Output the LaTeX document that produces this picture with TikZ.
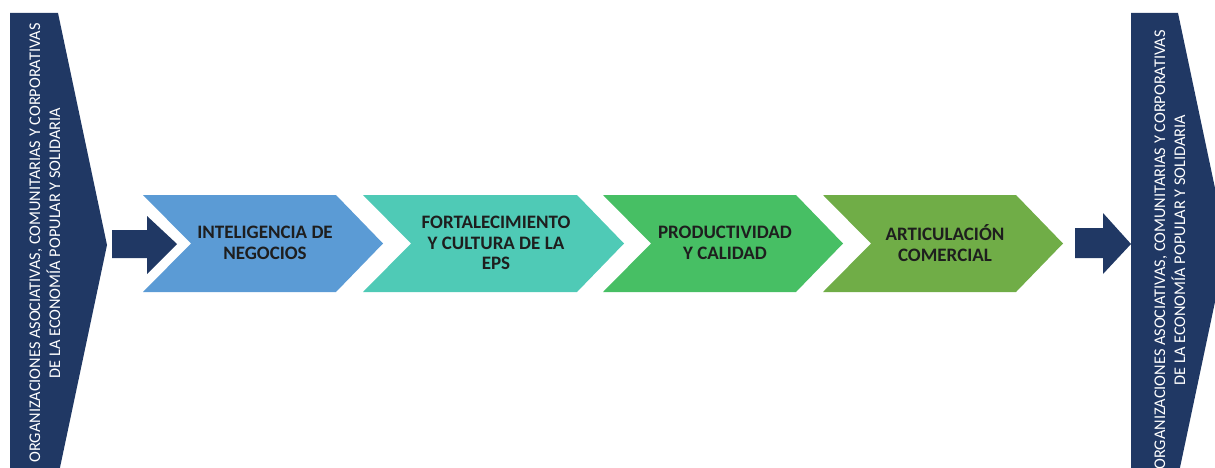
\documentclass[tikz,border=0pt]{standalone}
\usepackage{fontspec}
\setmainfont{Carlito}
\definecolor{navy}{HTML}{203864}
\definecolor{cblue}{HTML}{5B9BD5}
\definecolor{cteal}{HTML}{4FCAB6}
\definecolor{cgreen}{HTML}{47BF64}
\definecolor{colive}{HTML}{70AD47}
\definecolor{ctext}{HTML}{1E1E1E}
\tikzset{
  chevtext/.style={text=ctext, font=\fontsize{19}{20.5}\selectfont\bfseries, align=center, inner sep=0pt},
  sidetext/.style={text=white, font=\fontsize{16.3}{20}\selectfont, align=center, rotate=90, inner sep=0pt},
}
\begin{document}
\begin{tikzpicture}[x=1pt,y=-1pt]
\useasboundingbox (0,0) rectangle (1215,468);
\begin{scope}
\clip (0,0) rectangle (1215,468);
% side pentagons
\fill[navy] (10,13) -- (58,13) -- (107,245) -- (58,477) -- (10,477) -- cycle;
\fill[navy] (1131,13) -- (1178,13) -- (1227,245) -- (1178,477) -- (1131,477) -- cycle;
\node[sidetext] (left) at (45,243) {ORGANIZACIONES ASOCIATIVAS, COMUNITARIAS Y CORPORATIVAS\\DE LA ECONOMÍA POPULAR Y SOLIDARIA};
\node[sidetext] (right) at (1170,250) {ORGANIZACIONES ASOCIATIVAS, COMUNITARIAS Y CORPORATIVAS\\DE LA ECONOMÍA POPULAR Y SOLIDARIA};
% block arrows
\fill[navy] (112,230) -- (147,230) -- (147,216) -- (177,244) -- (147,274) -- (147,258) -- (112,258) -- cycle;
\fill[navy] (1075,228) -- (1103,228) -- (1103,213) -- (1131,244) -- (1103,274) -- (1103,258) -- (1075,258) -- cycle;
% chevrons
\fill[cblue]  (143,195) -- (336,195) -- (383,243.5) -- (336,292) -- (143,292) -- (191,243.5) -- cycle;
\fill[cteal]  (363,195) -- (577,195) -- (624,243.5) -- (577,292) -- (363,292) -- (411,243.5) -- cycle;
\fill[cgreen] (603,195) -- (796,195) -- (843,243.5) -- (796,292) -- (603,292) -- (651,243.5) -- cycle;
\fill[colive] (823,195) -- (1016,195) -- (1063,243.5) -- (1016,292) -- (823,292) -- (871,243.5) -- cycle;
\node[chevtext] (c1) at (265,243) {INTELIGENCIA DE\\NEGOCIOS};
\node[chevtext] (c2) at (496,243) {FORTALECIMIENTO\\Y CULTURA DE LA\\EPS};
\node[chevtext] (c3) at (725,243) {PRODUCTIVIDAD\\Y CALIDAD};
\node[chevtext] (c4) at (945,243) {ARTICULACIÓN\\COMERCIAL};
\end{scope}
\end{tikzpicture}
\end{document}
